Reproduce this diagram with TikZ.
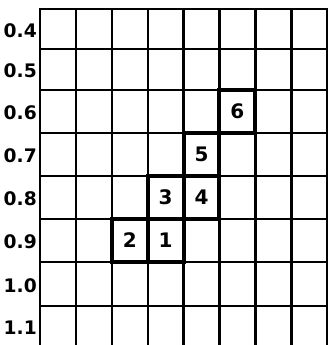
\documentclass[tikz,border=0pt]{standalone}
\usepackage{fontspec}
\setmainfont{DejaVu Sans}
\usetikzlibrary{positioning}

\begin{document}
\begin{tikzpicture}[
    x=0.75pt, y=-0.75pt,
    gridline/.style={line width=1.8pt, line cap=rect},
    rowlabel/.style={anchor=east, inner sep=0pt, font=\bfseries\fontsize{14}{15}\selectfont},
    cell/.style={draw, line width=3pt, outer sep=0pt, inner sep=0pt,
        minimum width=26.9pt, minimum height=32.25pt,
        font=\bfseries\fontsize{15}{16}\selectfont},
]
\useasboundingbox (0,0) rectangle (328,345);

%----------------------------------
% Grid
%----------------------------------

\foreach \i in {0,...,8}
    \draw[gridline] ({40+35.9*\i},9) -- ({40+35.9*\i},345);
\foreach \y in {9,49,90,133,176,219,262,306}
    \draw[gridline] (40,\y) -- (327,\y);

%----------------------------------
% Row labels
%----------------------------------

\foreach \lab/\yc [count=\i] in {0.4/30.5, 0.5/71, 0.6/113, 0.7/156,
                                0.8/199, 0.9/242, 1.0/285.5, 1.1/327.5}
    \node[rowlabel] (row\i) at (37,\yc) {\lab};

%----------------------------------
% Numbered cells
%----------------------------------

\node[cell] (c1) at (165.65,240.5) {1};
\node[cell,left=0pt of c1] (c2) {2};
\node[cell,above=0pt of c1] (c3) {3};
\node[cell,right=0pt of c3] (c4) {4};
\node[cell,above=0pt of c4] (c5) {5};
\node[cell,above right=0pt of c5] (c6) {6};

\end{tikzpicture}
\end{document}
